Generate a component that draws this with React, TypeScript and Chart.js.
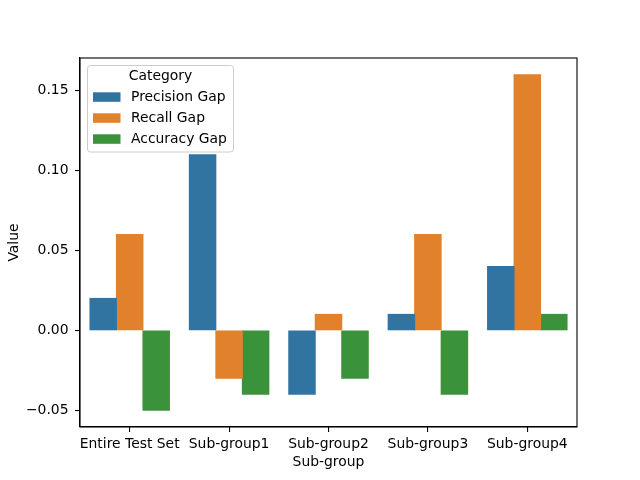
import React, { useEffect, useRef } from "react";
import { Chart, registerables } from "chart.js";

Chart.register(...registerables);

const categories = ["Entire Test Set", "Sub-group1", "Sub-group2", "Sub-group3", "Sub-group4"];
const seriesNames = ["Precision Gap", "Recall Gap", "Accuracy Gap"];
const precisionGap = [0.02, 0.11, -0.04, 0.01, 0.04];
const recallGap = [0.06, -0.03, 0.01, 0.06, 0.16];
const accuracyGap = [-0.05, -0.04, -0.03, -0.04, 0.01];
const yTicks = [-0.05, 0.0, 0.05, 0.1, 0.15];
const colors = ["#3274a1", "#e1812c", "#3a923a"];

const FONT = "'DejaVu Sans', sans-serif";
const FS = 13.9;

const framePlugin = {
  id: "frame",
  afterDraw(chart: any) {
    const { ctx, chartArea } = chart;
    ctx.save();
    ctx.strokeStyle = "#000";
    ctx.lineWidth = 1.1;
    ctx.strokeRect(chartArea.left, chartArea.top, chartArea.right - chartArea.left, chartArea.bottom - chartArea.top);
    // legend
    const x = 87.5, y = 65.5, w = 146, h = 86.5, r = 3;
    ctx.beginPath();
    ctx.moveTo(x + r, y);
    ctx.lineTo(x + w - r, y);
    ctx.quadraticCurveTo(x + w, y, x + w, y + r);
    ctx.lineTo(x + w, y + h - r);
    ctx.quadraticCurveTo(x + w, y + h, x + w - r, y + h);
    ctx.lineTo(x + r, y + h);
    ctx.quadraticCurveTo(x, y + h, x, y + h - r);
    ctx.lineTo(x, y + r);
    ctx.quadraticCurveTo(x, y, x + r, y);
    ctx.closePath();
    ctx.fillStyle = "rgba(255,255,255,0.8)";
    ctx.fill();
    ctx.strokeStyle = "#cccccc";
    ctx.lineWidth = 1;
    ctx.stroke();
    ctx.font = `${FS}px ${FONT}`;
    ctx.fillStyle = "#000";
    ctx.textBaseline = "middle";
    ctx.textAlign = "center";
    ctx.fillText("Category", 160.5, 76);
    ctx.textAlign = "left";
    chart.data.datasets.forEach((ds: any, i: number) => {
      const cy = 97 + i * 21;
      ctx.fillStyle = ds.backgroundColor;
      ctx.fillRect(93, cy - 4.7, 27.5, 9.5);
      ctx.fillStyle = "#000";
      ctx.fillText(ds.label, 131, cy);
    });
    ctx.restore();
  },
};

export default function App() {
  const ref = useRef<HTMLCanvasElement>(null);
  useEffect(() => {
    if (!ref.current) return;
    const values = [precisionGap, recallGap, accuracyGap];
    const chart = new Chart(ref.current, {
      type: "bar",
      data: {
        labels: categories,
        datasets: seriesNames.map((n, i) => ({
          label: n,
          data: values[i],
          backgroundColor: colors[i],
          borderWidth: 0,
          borderSkipped: false,
          inflateAmount: 0.5,
          categoryPercentage: 0.8,
          barPercentage: 1.0,
        })),
      },
      options: {
        animation: false,
        responsive: false,
        devicePixelRatio: 1,
        layout: { padding: { left: 0, top: 58, right: 63, bottom: 0 } },
        plugins: { legend: { display: false }, tooltip: { enabled: false } },
        scales: {
          x: {
            grid: { offset: false, drawOnChartArea: false, drawTicks: true, tickLength: 5, color: "#000", lineWidth: 1.1 },
            border: { display: true, color: "#000", width: 1.1 },
            ticks: { color: "#000", font: { family: FONT, size: FS }, padding: 4, maxRotation: 0, autoSkip: false },
            title: { display: true, text: "Sub-group", color: "#000", font: { family: FONT, size: FS }, padding: { top: 0, bottom: 9 } },
            afterFit: (s: any) => { s.height = 53; },
          },
          y: {
            min: -0.0605,
            max: 0.1705,
            grid: { drawOnChartArea: false, drawTicks: true, tickLength: 5, color: "#000", lineWidth: 1.1 },
            border: { display: true, color: "#000", width: 1.1 },
            ticks: {
              color: "#000",
              font: { family: FONT, size: FS },
              padding: 6.5,
              callback: (v: any) => Number(v).toFixed(2).replace("-", "\u2212"),
            },
            afterBuildTicks: (s: any) => { s.ticks = yTicks.map((v) => ({ value: v })); },
            title: { display: true, text: "Value", color: "#000", font: { family: FONT, size: FS }, padding: { top: 6, bottom: 0 } },
            afterFit: (s: any) => { s.width = 80; },
          },
        },
      },
      plugins: [framePlugin],
    });
    return () => chart.destroy();
  }, []);
  return (
    <div style={{ position: "fixed", left: 0, top: 0, width: 640, height: 480, background: "#fff" }}>
      <canvas ref={ref} width={640} height={480} style={{ width: 640, height: 480 }} />
    </div>
  );
}
